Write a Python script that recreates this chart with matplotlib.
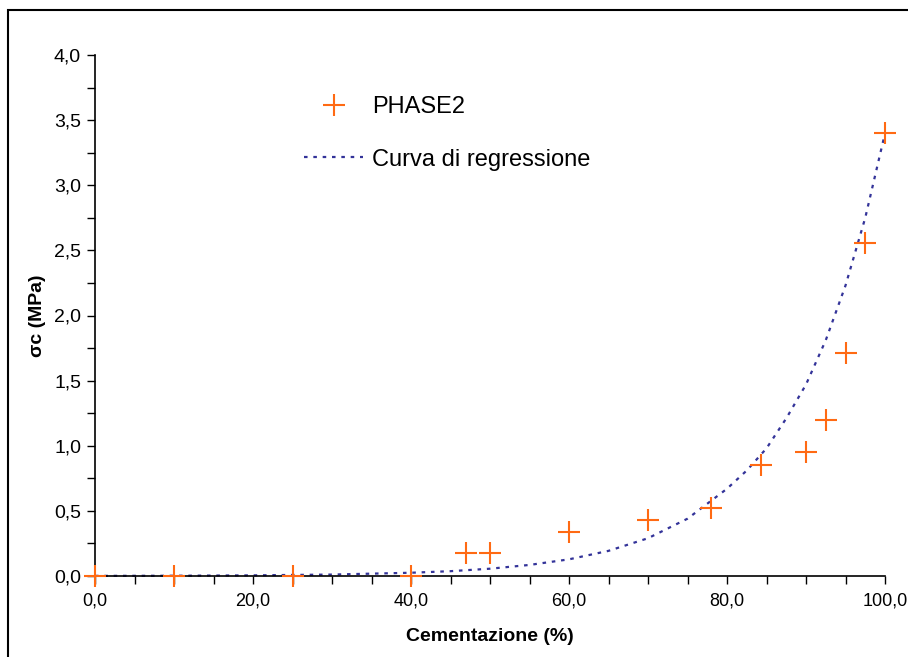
import matplotlib
matplotlib.use("Agg")
import matplotlib.pyplot as plt
from matplotlib.ticker import MultipleLocator, FuncFormatter
from matplotlib.patches import Rectangle

# Data
cementazione = [0, 10, 25, 40, 47, 50, 60, 70, 78, 84.3, 90, 92.5, 95, 97.5, 100]
sigma_c = [0.0, 0.0, 0.0, 0.0, 0.18, 0.18, 0.34, 0.43, 0.52, 0.85, 0.95, 1.20, 1.71, 2.56, 3.40]

curve_x = [0, 10, 20, 30, 40, 45, 50, 55, 60, 65, 70, 75, 80, 82.5, 85, 87.5, 90, 92.5, 95, 97.5, 100]
curve_y = [0.001, 0.002, 0.005, 0.011, 0.025, 0.037, 0.056, 0.085, 0.128, 0.193, 0.29, 0.44,
           0.67, 0.81, 0.98, 1.21, 1.47, 1.81, 2.23, 2.75, 3.40]

series_label = "PHASE2"
curve_label = "Curva di regressione"
xlabel = "Cementazione (%)"
ylabel = "σc (MPa)"

plt.rcParams['font.family'] = ['Liberation Sans', 'DejaVu Sans']

W, H = 908, 657
fig = plt.figure(figsize=(W / 100, H / 100), dpi=100)
ax = fig.add_axes([95 / W, 1 - 576 / H, (885 - 95) / W, (576 - 55) / H])

ax.plot(curve_x, curve_y, linestyle=(0, (1.6, 2.6)), color='#333399', linewidth=1.6,
        label=curve_label, clip_on=False, zorder=2)
ax.plot(cementazione, sigma_c, linestyle='none', marker='+', markersize=16,
        markeredgewidth=1.5, color='#FF6A13', label=series_label, clip_on=False, zorder=3)

ax.set_xlim(0, 100)
ax.set_ylim(0, 4)
ax.xaxis.set_major_locator(MultipleLocator(20))
ax.xaxis.set_minor_locator(MultipleLocator(5))
ax.yaxis.set_major_locator(MultipleLocator(0.5))
ax.yaxis.set_minor_locator(MultipleLocator(0.25))
fmt = FuncFormatter(lambda v, p: f"{v:.1f}".replace('.', ','))
ax.xaxis.set_major_formatter(fmt)
ax.yaxis.set_major_formatter(fmt)

for s in ['top', 'right']:
    ax.spines[s].set_visible(False)
for s in ['left', 'bottom']:
    ax.spines[s].set_linewidth(1.2)
    ax.spines[s].set_color('black')

ax.tick_params(which='both', direction='out', length=6, width=1.0, colors='black')
ax.tick_params(axis='y', which='major', pad=4, labelsize=14)
ax.tick_params(axis='x', which='major', pad=6, labelsize=13)

ax.set_xlabel(xlabel, fontsize=14, fontweight='bold', labelpad=13)
ax.set_ylabel(ylabel, fontsize=14, fontweight='bold', labelpad=6)

handles, labels = ax.get_legend_handles_labels()
leg = fig.legend(handles[::-1], labels[::-1], loc='upper left',
                 bbox_to_anchor=(304 / W, 1 - 96 / H), frameon=False,
                 fontsize=17, handlelength=2.5, handletextpad=0.38,
                 labelspacing=1.3, borderpad=0, borderaxespad=0)

# outer frame of the chart
fig.patches.append(Rectangle((8 / W, -0.05), 1.2, 1 - 10 / H + 0.05,
                             transform=fig.transFigure, fill=False,
                             edgecolor='black', linewidth=1.5))

fig.savefig("out.png", dpi=100)
